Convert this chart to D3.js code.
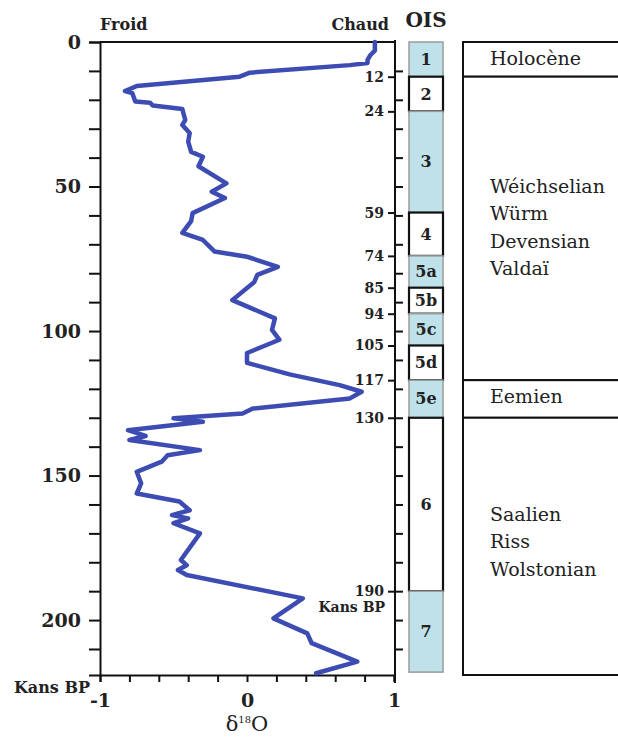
<!DOCTYPE html>
<html>
<head>
<meta charset="utf-8">
<script src="https://cdn.jsdelivr.net/npm/d3@7"></script>
<style>
  html, body { margin: 0; padding: 0; background: #fff; }
  svg { display: block; }
  text { font-family: "DejaVu Serif", "Liberation Serif", serif; fill: #222; }
</style>
</head>
<body>
<svg id="chart" width="618" height="738"></svg>
<script>
// ---- data ----
const ages = [0, 3, 4.5, 6.2, 7.3, 8, 10.6, 12, 15.2, 17, 17.7, 20.6, 21, 22, 23.2, 27, 28.7, 31.5, 34.5, 38, 39.7, 43, 48.9, 51.8, 54, 59.2, 62, 66, 68.5, 72.5, 74.3, 77.8, 80.6, 83, 89.3, 95.6, 99.6, 103, 107.6, 111, 115, 118.7, 121, 123.3, 126.8, 128.5, 130.2, 131.4, 134.3, 136.3, 137.7, 141.2, 143, 145.2, 148.7, 152.7, 156.2, 159, 162, 163.7, 164.8, 166.5, 170, 179.2, 181, 182.7, 184.4, 192.5, 199.4, 204.6, 208, 214.4, 218.4];
const d18O = [0.87, 0.87, 0.84, 0.82, 0.82, 0.70, 0.02, -0.05, -0.75, -0.83, -0.78, -0.76, -0.66, -0.64, -0.44, -0.42, -0.44, -0.39, -0.40, -0.38, -0.30, -0.33, -0.14, -0.24, -0.15, -0.37, -0.38, -0.44, -0.30, -0.22, 0.00, 0.21, 0.07, 0.05, -0.10, 0.19, 0.17, 0.22, 0.00, 0.00, 0.29, 0.63, 0.78, 0.70, 0.04, -0.03, -0.50, -0.30, -0.81, -0.69, -0.80, -0.32, -0.54, -0.58, -0.75, -0.72, -0.75, -0.46, -0.39, -0.51, -0.40, -0.50, -0.32, -0.45, -0.41, -0.47, -0.41, 0.38, 0.18, 0.41, 0.44, 0.75, 0.47];

const leftTicks = [0, 50, 100, 150, 200];
const bottomLabels = [-1, 0, 1];
const boundaryAges = [12, 24, 59, 74, 85, 94, 105, 117, 130, 190];

const oisNames = ["1", "2", "3", "4", "5a", "5b", "5c", "5d", "5e", "6", "7"];
const oisStart = [0, 12, 24, 59, 74, 85, 94, 105, 117, 130, 190];
const oisEnd   = [12, 24, 59, 74, 85, 94, 105, 117, 130, 190, 218];
const oisWarm  = [true, false, true, false, true, false, true, false, true, false, true];

const periodStart = [0, 12, 117, 130];
const periodEnd   = [12, 117, 130, 219];
const periodNames = [["Holocène"], ["Wéichselian", "Würm", "Devensian", "Valdaï"], ["Eemien"], ["Saalien", "Riss", "Wolstonian"]];

// ---- layout ----
const svg = d3.select("#chart");
const x = d3.scaleLinear().domain([-1, 1]).range([100, 394]);
const y = d3.scaleLinear().domain([0, 219]).range([42, 675]);
const ink = "#111";

// frame top line
svg.append("line").attr("x1", 100).attr("x2", 395).attr("y1", y(0)).attr("y2", y(0))
  .attr("stroke", ink).attr("stroke-width", 2);

// left axis
const gL = svg.append("g").attr("transform", "translate(100,0)")
  .call(d3.axisLeft(y).tickValues(d3.range(0, 220, 10)).tickSize(11).tickPadding(8)
    .tickFormat(d => leftTicks.includes(d) ? d : ""));
gL.select(".domain").attr("stroke", ink).attr("stroke-width", 2);
gL.selectAll(".tick line").attr("stroke", ink).attr("stroke-width", 2);
gL.selectAll(".tick text").style("font-family", "DejaVu Serif").style("font-weight", "bold")
  .style("font-size", "19px").attr("fill", "#222");

// bottom axis
const gB = svg.append("g").attr("transform", `translate(0,${y(219)})`)
  .call(d3.axisBottom(x).tickValues(d3.range(-1, 1.01, 0.2)).tickSize(7).tickPadding(8)
    .tickFormat(d => bottomLabels.some(b => Math.abs(b - d) < 1e-6) ? String(Math.round(d)) : ""));
gB.select(".domain").attr("stroke", ink).attr("stroke-width", 2);
gB.selectAll(".tick line").attr("stroke", ink).attr("stroke-width", 2);
gB.selectAll(".tick text").style("font-family", "DejaVu Serif").style("font-weight", "bold")
  .style("font-size", "19px").attr("fill", "#222").attr("dy", "0.9em");

// right axis (boundary labels left, minor ticks right)
const gR = svg.append("g").attr("transform", "translate(395,0)");
gR.append("line").attr("x1", 0).attr("x2", 0).attr("y1", 40).attr("y2", 683)
  .attr("stroke", ink).attr("stroke-width", 2);
gR.call(g => g.append("g")
  .call(d3.axisRight(y).tickValues(d3.range(10, 220, 10)).tickSize(8).tickFormat(""))
  .call(a => a.select(".domain").remove())
  .call(a => a.selectAll(".tick line").attr("stroke", ink).attr("stroke-width", 2)));
gR.call(g => g.append("g")
  .call(d3.axisLeft(y).tickValues(boundaryAges).tickSize(7).tickPadding(4))
  .call(a => a.select(".domain").remove())
  .call(a => a.selectAll(".tick line").attr("stroke", ink).attr("stroke-width", 2))
  .call(a => a.selectAll(".tick text").style("font-family", "DejaVu Serif").style("font-weight", "bold")
    .style("font-size", "14px").attr("fill", "#222")));

// curve
const pts = ages.map((a, i) => ({ a, v: d18O[i] }));
svg.append("path").datum(pts)
  .attr("fill", "none").attr("stroke", "#3d4cb3").attr("stroke-width", 4.5)
  .attr("stroke-linejoin", "round").attr("stroke-linecap", "round")
  .attr("d", d3.line().x(d => x(d.v)).y(d => y(d.a)));

// header labels
svg.append("text").attr("x", 100).attr("y", 30).text("Froid")
  .style("font-weight", "bold").style("font-size", "16px");
svg.append("text").attr("x", 389).attr("y", 30).attr("text-anchor", "end").text("Chaud")
  .style("font-weight", "bold").style("font-size", "16px");
svg.append("text").attr("x", 426).attr("y", 27).attr("text-anchor", "middle").text("OIS")
  .style("font-weight", "bold").style("font-size", "20px");

// Kans BP labels
svg.append("text").attr("x", 90).attr("y", 693).attr("text-anchor", "end").text("Kans BP")
  .style("font-weight", "bold").style("font-size", "16px");
svg.append("text").attr("x", 385).attr("y", 612).attr("text-anchor", "end").text("Kans BP")
  .style("font-weight", "bold").style("font-size", "14px");

// x title δ18O
const t = svg.append("text").attr("x", x(0)).attr("y", 731).attr("text-anchor", "middle")
  .style("font-size", "21px");
t.append("tspan").text("δ");
t.append("tspan").attr("dy", -8).style("font-size", "10px").text("18");
t.append("tspan").attr("dy", 8).text("O");

// OIS column
const ox0 = 409, ox1 = 443;
const ois = svg.append("g");
oisNames.forEach((n, i) => {
  ois.append("rect").attr("x", ox0).attr("width", ox1 - ox0)
    .attr("y", y(oisStart[i])).attr("height", y(oisEnd[i]) - y(oisStart[i]))
    .attr("fill", oisWarm[i] ? "#bfe2ea" : "#fff")
    .attr("stroke", oisWarm[i] ? "#9a9a9a" : ink)
    .attr("stroke-width", oisWarm[i] ? 1.5 : 2.2);
});
oisNames.forEach((n, i) => {
  ois.append("text").attr("x", (ox0 + ox1) / 2).attr("y", (y(oisStart[i]) + y(oisEnd[i])) / 2)
    .attr("text-anchor", "middle").attr("dominant-baseline", "central")
    .style("font-weight", "bold").style("font-size", "16px").text(n);
});

// period column
const px0 = 463, px1 = 640;
const per = svg.append("g");
periodNames.forEach((names, i) => {
  per.append("rect").attr("x", px0).attr("width", px1 - px0)
    .attr("y", y(periodStart[i])).attr("height", y(periodEnd[i]) - y(periodStart[i]))
    .attr("fill", "#fff").attr("stroke", ink).attr("stroke-width", 2);
});
const lineGap = 27.5;
const centers = [58, 227, 396, 541];
periodNames.forEach((names, i) => {
  const n = names.length;
  names.forEach((s, j) => {
    per.append("text").attr("x", 490)
      .attr("y", centers[i] + (j - (n - 1) / 2) * lineGap)
      .attr("dominant-baseline", "central")
      .style("font-size", "19px").text(s);
  });
});
</script>
</body>
</html>
